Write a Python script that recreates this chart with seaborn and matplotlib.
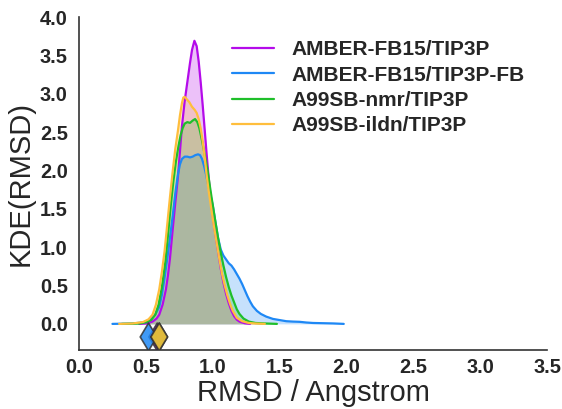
import numpy as np
import pandas as pd
import matplotlib
matplotlib.use("Agg")
import matplotlib.pyplot as plt
import matplotlib.ticker as mticker
import seaborn as sns

# Force-field / water-model combinations
models = [
    "AMBER-FB15/TIP3P",
    "AMBER-FB15/TIP3P-FB",
    "A99SB-nmr/TIP3P",
    "A99SB-ildn/TIP3P",
]
colors = ["#b40bea", "#1e88f5", "#1fbf2a", "#ffbe3c"]

# Kernel density estimates of backbone RMSD (Angstrom -> density)
fb15_tip3p_x = [0.45, 0.50, 0.55, 0.58, 0.60, 0.625, 0.65, 0.665, 0.68, 0.70, 0.72,
                0.74, 0.755, 0.77, 0.79, 0.81, 0.83, 0.845, 0.863, 0.88, 0.895,
                0.91, 0.925, 0.94, 0.955, 0.97, 0.99, 1.01, 1.035, 1.06, 1.08,
                1.10, 1.12, 1.14, 1.16, 1.18, 1.20, 1.24, 1.28]
fb15_tip3p_y = [0.0, 0.005, 0.03, 0.07, 0.12, 0.25, 0.45, 0.63, 0.85, 1.22, 1.58,
                1.92, 2.25, 2.58, 2.90, 3.15, 3.40, 3.57, 3.69, 3.62, 3.42,
                3.15, 2.85, 2.53, 2.20, 1.90, 1.55, 1.28, 1.00, 0.72, 0.54,
                0.39, 0.27, 0.17, 0.10, 0.055, 0.03, 0.008, 0.0]

fb15_tip3pfb_x = [0.25, 0.40, 0.48, 0.53, 0.57, 0.60, 0.62, 0.64, 0.66, 0.68, 0.70,
                  0.72, 0.74, 0.755, 0.77, 0.79, 0.81, 0.83, 0.85, 0.87, 0.89,
                  0.905, 0.92, 0.935, 0.95, 0.965, 0.98, 1.00, 1.02, 1.04, 1.06,
                  1.08, 1.10, 1.12, 1.14, 1.16, 1.18, 1.20, 1.22, 1.24, 1.26,
                  1.28, 1.30, 1.33, 1.36, 1.40, 1.45, 1.50, 1.55, 1.60, 1.65,
                  1.70, 1.75, 1.80, 1.90, 1.98]
fb15_tip3pfb_y = [0.0, 0.005, 0.02, 0.05, 0.12, 0.22, 0.38, 0.60, 0.85, 1.12, 1.40,
                  1.70, 1.95, 2.08, 2.15, 2.18, 2.18, 2.17, 2.18, 2.20, 2.21,
                  2.20, 2.15, 2.06, 1.95, 1.82, 1.70, 1.55, 1.33, 1.12, 0.97,
                  0.89, 0.84, 0.79, 0.76, 0.71, 0.65, 0.59, 0.52, 0.44, 0.36,
                  0.29, 0.23, 0.17, 0.13, 0.095, 0.065, 0.05, 0.035, 0.03, 0.027,
                  0.018, 0.012, 0.01, 0.006, 0.0]

a99_nmr_x = [0.32, 0.45, 0.50, 0.54, 0.57, 0.595, 0.62, 0.645, 0.665, 0.685, 0.705,
             0.725, 0.745, 0.76, 0.775, 0.79, 0.81, 0.83, 0.85, 0.868, 0.885,
             0.90, 0.915, 0.93, 0.945, 0.96, 0.98, 1.00, 1.02, 1.04, 1.06,
             1.08, 1.10, 1.12, 1.14, 1.16, 1.18, 1.20, 1.23, 1.27, 1.32,
             1.40, 1.48]
a99_nmr_y = [0.0, 0.005, 0.02, 0.05, 0.12, 0.25, 0.48, 0.80, 1.15, 1.52, 1.85,
             2.12, 2.33, 2.46, 2.55, 2.61, 2.63, 2.62, 2.65, 2.67, 2.63,
             2.55, 2.43, 2.30, 2.16, 2.02, 1.78, 1.55, 1.33, 1.12, 0.93,
             0.76, 0.61, 0.48, 0.37, 0.28, 0.19, 0.13, 0.07, 0.03, 0.012,
             0.005, 0.0]

a99_ildn_x = [0.30, 0.40, 0.48, 0.52, 0.55, 0.575, 0.60, 0.62, 0.64, 0.66, 0.68,
              0.70, 0.72, 0.74, 0.755, 0.77, 0.78, 0.79, 0.805, 0.825, 0.845,
              0.865, 0.88, 0.895, 0.91, 0.925, 0.94, 0.955, 0.97, 0.99, 1.01,
              1.03, 1.05, 1.07, 1.09, 1.11, 1.13, 1.15, 1.18, 1.22, 1.27,
              1.32, 1.39]
a99_ildn_y = [0.0, 0.005, 0.025, 0.06, 0.12, 0.25, 0.45, 0.68, 0.95, 1.30, 1.65,
              1.98, 2.28, 2.52, 2.72, 2.88, 2.95, 2.96, 2.93, 2.89, 2.83,
              2.79, 2.75, 2.67, 2.55, 2.38, 2.17, 1.93, 1.73, 1.49, 1.26,
              1.05, 0.84, 0.65, 0.50, 0.37, 0.26, 0.17, 0.08, 0.035, 0.012,
              0.005, 0.0]

# Reference RMSD marked below each density
ref_rmsd = [0.585, 0.52, 0.60, 0.60]

curves_x = [fb15_tip3p_x, fb15_tip3pfb_x, a99_nmr_x, a99_ildn_x]
curves_y = [fb15_tip3p_y, fb15_tip3pfb_y, a99_nmr_y, a99_ildn_y]

frames = []
for name, xs, ys in zip(models, curves_x, curves_y):
    frames.append(pd.DataFrame({"rmsd": xs, "density": ys, "model": name}))
kde = pd.concat(frames, ignore_index=True)
refs = pd.DataFrame({"rmsd": ref_rmsd, "density": -0.17, "model": models})

sns.set_style("white")
plt.rcParams["font.family"] = ["Liberation Sans", "DejaVu Sans"]

fig = plt.figure(figsize=(5.62, 4.09), dpi=100)
ax = fig.add_axes([0.1406, 0.1443, 0.8327, 0.8141])

palette = dict(zip(models, colors))
for name in models:
    sub = kde[kde["model"] == name]
    sns.lineplot(data=sub, x="rmsd", y="density", color=palette[name],
                 sort=False, estimator=None, lw=1.6, ax=ax, label=name)
    ax.fill_between(sub["rmsd"], sub["density"], color=palette[name],
                    alpha=0.25, lw=0)

sns.scatterplot(data=refs, x="rmsd", y="density", hue="model", hue_order=models,
                palette=palette, marker="d", s=200, alpha=0.85,
                edgecolor="#333333", linewidth=1.2, ax=ax, legend=False,
                zorder=5)

ax.set_xlim(0, 3.5)
ax.set_ylim(-0.34, 4.0)
ax.set_xticks(np.arange(0, 3.51, 0.5))
ax.set_yticks(np.arange(0, 4.01, 0.5))
ax.xaxis.set_major_formatter(mticker.FormatStrFormatter("%.1f"))
ax.yaxis.set_major_formatter(mticker.FormatStrFormatter("%.1f"))
ax.tick_params(axis="both", length=0, labelsize=14.4)
ax.tick_params(axis="x", pad=6)
ax.tick_params(axis="y", pad=8)
for lab in ax.get_xticklabels() + ax.get_yticklabels():
    lab.set_fontweight("bold")
    lab.set_color("#262626")

ax.set_xlabel("RMSD / Angstrom", fontsize=21, color="#262626", labelpad=1)
ax.set_ylabel("KDE(RMSD)", fontsize=21, color="#262626", labelpad=4)

sns.despine(ax=ax)
for side in ("left", "bottom"):
    ax.spines[side].set_color("#333333")
    ax.spines[side].set_linewidth(1.2)

leg = ax.legend(loc="upper left", bbox_to_anchor=(0.3085, 0.955), frameon=False,
                prop={"weight": "bold", "size": 15}, handlelength=2.05,
                handletextpad=0.8, labelspacing=0.3, borderaxespad=0.0)
for t in leg.get_texts():
    t.set_color("#262626")

fig.savefig("out.png", dpi=100)
